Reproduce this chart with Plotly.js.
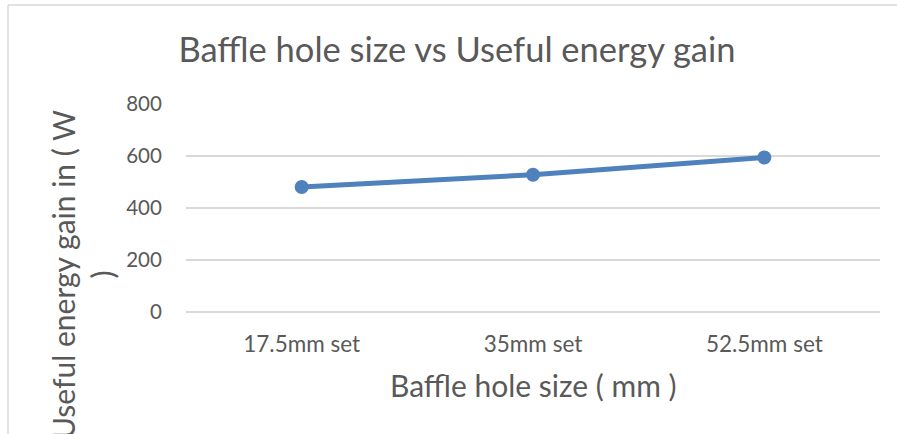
<!DOCTYPE html>
<html>
<head>
<meta charset="utf-8">
<script src="https://cdn.plot.ly/plotly-3.0.1.min.js"></script>
<style>html,body{margin:0;padding:0;background:#fff;}#chart{width:897px;height:434px;}</style>
</head>
<body>
<div id="chart"></div>
<script>
const categories = ["17.5mm set", "35mm set", "52.5mm set"];
const usefulEnergyGain = [481, 528, 594];
const yTicks = [0, 200, 400, 600, 800];

const FONT = "Lato, 'Open Sans', sans-serif";
const GREY = "#595959";

const trace = {
  type: "scatter",
  mode: "lines+markers",
  x: categories,
  y: usefulEnergyGain,
  line: {color: "#4F81BD", width: 5},
  marker: {color: "#4F81BD", size: 14},
  cliponaxis: false,
  hoverinfo: "skip"
};

const layout = {
  width: 897, height: 434,
  margin: {l: 186, r: 17, t: 104, b: 122},
  paper_bgcolor: "#fff", plot_bgcolor: "#fff",
  showlegend: false,
  font: {family: FONT, color: GREY},
  title: {
    text: "Baffle hole size vs Useful energy gain",
    font: {family: FONT, size: 34.5, color: GREY},
    xref: "container", x: 457/897, xanchor: "center",
    yref: "container", y: 1 - 50/434, yanchor: "middle"
  },
  xaxis: {
    type: "category",
    range: [-0.5, 2.5],
    showgrid: false, zeroline: false,
    showline: false,
    ticks: "outside", ticklen: 12, tickcolor: "rgba(0,0,0,0)",
    tickfont: {family: FONT, size: 22.5, color: GREY},
    fixedrange: true
  },
  yaxis: {
    range: [0, 800],
    tickvals: yTicks,
    ticktext: yTicks.map(String),
    showgrid: true, gridcolor: "#D9D9D9", gridwidth: 1.3,
    zeroline: true, zerolinecolor: "#D9D9D9", zerolinewidth: 1.3,
    showline: false,
    ticks: "outside", ticklen: 19, tickcolor: "rgba(0,0,0,0)",
    tickfont: {family: FONT, size: 20.5, color: GREY},
    fixedrange: true
  },
  annotations: [
    {
      text: "Baffle hole size ( mm )",
      xref: "paper", yref: "paper", x: 0.5, y: -(385-312)/208,
      xanchor: "center", yanchor: "middle", showarrow: false,
      font: {family: FONT, size: 30, color: GREY}
    },
    {
      text: "Useful energy gain in ( W<br>)",
      xref: "paper", yref: "paper",
      x: (82-186)/694, y: (312-275)/208,
      xanchor: "center", yanchor: "middle", showarrow: false,
      textangle: -90,
      font: {family: FONT, size: 30, color: GREY}
    }
  ],
  shapes: [
    {type: "line", xref: "paper", yref: "paper",
     x0: (8-186)/694, x1: (8-186)/694, y0: (312-5)/208, y1: (312-440)/208,
     line: {color: "#D9D9D9", width: 1.5}},
    {type: "line", xref: "paper", yref: "paper",
     x0: (8-186)/694, x1: (900-186)/694, y0: (312-5)/208, y1: (312-5)/208,
     line: {color: "#D9D9D9", width: 1.5}}
  ]
};

Plotly.newPlot("chart", [trace], layout, {displayModeBar: false, staticPlot: true});
</script>
</body>
</html>
